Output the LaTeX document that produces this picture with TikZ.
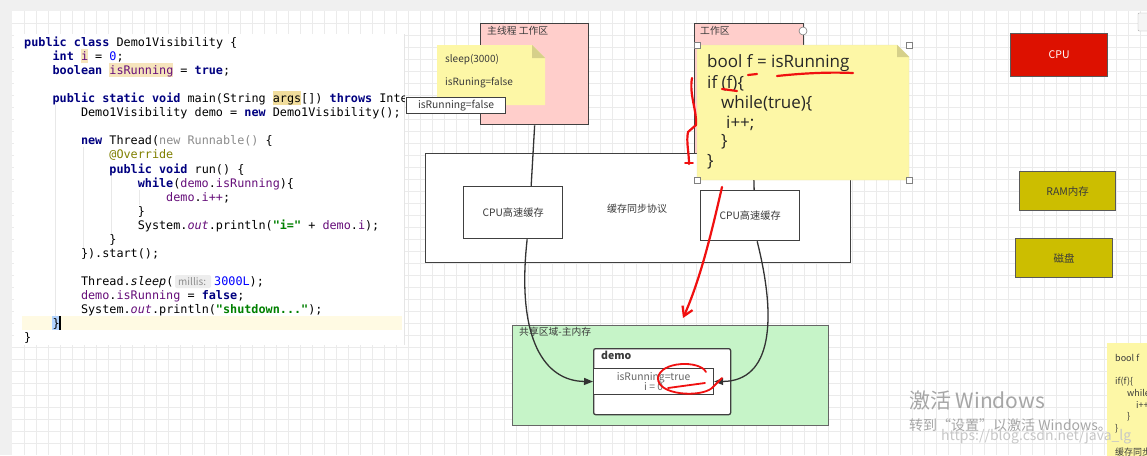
\documentclass[tikz,border=0pt]{standalone}
\usepackage{fontspec}
\setmainfont{Noto Sans CJK SC}
\newfontfamily\codefont{DejaVu Sans Mono}
\newfontfamily\notefont{Open Sans}
\usetikzlibrary{arrows.meta}
\definecolor{kwc}{HTML}{000080}
\definecolor{fldc}{HTML}{660E7A}
\definecolor{strc}{HTML}{008000}
\definecolor{numc}{HTML}{0000FF}
\definecolor{annc}{HTML}{808000}
\definecolor{grc}{HTML}{8C8C8C}
\definecolor{pinkc}{HTML}{FFCECB}
\definecolor{notec}{HTML}{FDF7A6}
\definecolor{foldc}{HTML}{D6D08A}
\definecolor{greenc}{HTML}{C6F4C8}
\definecolor{cpuc}{HTML}{DD1100}
\definecolor{olivec}{HTML}{CCBE00}
\definecolor{gridc}{HTML}{EBEBEB}
\definecolor{bordc}{HTML}{404040}
\definecolor{redc}{HTML}{F01010}
\definecolor{hlc}{HTML}{F6E4BC}
\definecolor{hlargs}{HTML}{F1DD9C}
\definecolor{curlinec}{HTML}{FFFAE3}
\definecolor{selc}{HTML}{B3D4FF}
\definecolor{txtc}{HTML}{3A3A3A}
\newcommand\ckw[1]{\textcolor{kwc}{\bfseries #1}}
\newcommand\cfld[1]{\textcolor{fldc}{#1}}
\newcommand\cfldit[1]{\textcolor{fldc}{\itshape #1}}
\newcommand\cstr[1]{\textcolor{strc}{\bfseries #1}}
\newcommand\cnum[1]{\textcolor{numc}{#1}}
\newcommand\cann[1]{\textcolor{annc}{#1}}
\newcommand\cgr[1]{\textcolor{grc}{#1}}
\tikzset{
  code/.style={anchor=base west, inner sep=0pt, font=\codefont\fontsize{11.8}{14}\selectfont},
  box/.style={draw=bordc, line width=1.3pt, inner sep=0pt, anchor=north west, text=txtc, font=\fontsize{10.2}{12}\selectfont},
  lbl/.style={inner sep=0pt, anchor=north west, text=txtc, font=\fontsize{9.8}{11}\selectfont},
  ntxt/.style={inner sep=0pt, anchor=west, text=txtc, font=\fontsize{10}{12}\selectfont},
  bigtxt/.style={inner sep=0pt, anchor=west, text=black!85, font=\notefont\fontsize{17}{19}\selectfont},
  smalltxt/.style={inner sep=0pt, anchor=west, text=txtc, font=\fontsize{9}{10}\selectfont},
  conn/.style={draw=black!80, line width=1.3pt},
  redpen/.style={draw=redc, line width=2.2pt, line cap=round, line join=round},
  handle/.style={draw=gray, fill=white, line width=0.6pt},
  wmark/.style={inner sep=0pt, anchor=west, text=black!35},
}
\begin{document}
\begin{tikzpicture}[x=1pt,y=-1pt]
\useasboundingbox (0,0) rectangle (1147,455);
\fill[white] (0,0) rectangle (1147,455);
% grid
\foreach \x in {24,36,...,1146} \draw[gridc,line width=0.5pt] (\x,11)--(\x,455);
\foreach \y in {23,35,...,454} \draw[gridc,line width=0.5pt] (12,\y)--(1147,\y);
\fill[gray!12] (0,0) rectangle (1147,11);
\fill[gray!12] (0,0) rectangle (12,455);
% top-right small widget
\draw[gray!60,fill=gray!8,rounded corners=1pt] (1138,13) rectangle (1150,31);

% ---------------- code panel ----------------
\fill[white] (14,34) rectangle (404,345);
\draw[gray!20] (404,34)--(404,345);
\fill[curlinec] (22,316) rectangle (402,330);
\foreach \gx/\ga/\gb in {55/105/318, 83/147/250, 111/176/236, 139/190/205}
  \draw[gray!18,line width=0.6pt] (\gx,\ga)--(\gx,\gb);
\begin{scope}
\clip (14,34) rectangle (404,345);
\fill[hlc] (80.8,49) rectangle (87.9,63);
\fill[hlc] (109.2,63) rectangle (173.1,77);
\fill[hlargs] (272.5,91) rectangle (300.9,105);
\fill[selc] (52.4,316) rectangle (59.5,330);
\draw[black,line width=1.4pt] (60,316)--(60,330);
\node[code] (c1) at (24,46) {\ckw{public class} Demo1Visibility \{};
\node[code] (c2) at (52.4,60) {\ckw{int} \cfld{i} = \cnum{0};};
\node[code] (c3) at (52.4,74) {\ckw{boolean} \cfld{isRunning} = \ckw{true};};
\node[code] (c4) at (52.4,102) {\ckw{public static void} main(String args[]) \ckw{throws} InterruptedException \{};
\node[code] (c5) at (80.8,116) {Demo1Visibility demo = \ckw{new} Demo1Visibility();};
\node[code] (c6) at (80.8,144) {\ckw{new} Thread(\cgr{new Runnable()} \{};
\node[code] (c7) at (109.2,158) {\cann{@Override}};
\node[code] (c8) at (109.2,173) {\ckw{public void} run() \{};
\node[code] (c9) at (137.6,187) {\ckw{while}(\cfld{demo}.\cfld{isRunning})\{};
\node[code] (c10) at (166,201) {\cfld{demo}.\cfld{i}\cfld{++};};
\node[code] (c11) at (137.6,215) {\}};
\node[code] (c12) at (137.6,229) {System.\cfldit{out}.println(\cstr{"i="} + \cfld{demo}.\cfld{i});};
\node[code] (c13) at (109.2,243) {\}};
\node[code] (c14) at (80.8,257) {\}).start();};
\node[code] (c15) at (80.8,285) {Thread.\textit{sleep}(};
\fill[gray!14,rounded corners=2pt] (175,275) rectangle (211,288);
\node[inner sep=0pt,anchor=base west,text=grc,font=\fontsize{10}{12}\selectfont] (hint) at (178,285) {millis:};
\node[code] (c15b) at (214,285) {\cnum{3000L});};
\node[code] (c16) at (80.8,299) {\cfld{demo}.\cfld{isRunning} = \ckw{false};};
\node[code] (c17) at (80.8,313) {System.\cfldit{out}.println(\cstr{"shutdown..."});};
\node[code] (c18) at (52.4,327) {\}};
\node[code] (c19) at (24,341) {\}};
\end{scope}

% ---------------- work areas ----------------
\node[box, fill=pinkc, minimum width=109pt, minimum height=130pt] (wa2) at (694,23) {};
\node[lbl] (wa2l) at (700,26) {工作区};
\draw[handle] (803,31) circle (4);
\node[box, fill=pinkc, minimum width=108pt, minimum height=101pt] (mainwa) at (480,23) {};
\node[lbl] (mainwal) at (487,26) {主线程 工作区};

% ---------------- cache sync box ----------------
\node[box, fill=white, minimum width=425pt, minimum height=109pt] (sync) at (425,153) {};
\node[inner sep=0pt, text=txtc, font=\fontsize{10}{12}\selectfont] (syncl) at (637,209) {缓存同步协议};
\node[box, fill=white, minimum width=99pt, minimum height=52pt] (cacheL) at (463,186) {CPU高速缓存};
\node[box, fill=white, minimum width=99pt, minimum height=50pt] (cacheR) at (700,190) {CPU高速缓存};

% ---------------- shared main memory ----------------
\node[box, draw=black!60, fill=greenc, line width=1.2pt, minimum width=316pt, minimum height=100pt] (shared) at (512,325) {};
\node[lbl] (sharedl) at (519,327) {共享区域-主内存};
\node[box, fill=white, rounded corners=2pt, minimum width=137pt, minimum height=66pt] (demo) at (593,348) {};
\node[inner sep=0pt, anchor=west, text=txtc, font=\bfseries\fontsize{10.5}{12}\selectfont] (demol) at (601,355) {demo};
\node[box, fill=white, line width=1.1pt, minimum width=120pt, minimum height=26pt, text=black!60, align=center, font=\fontsize{10.3}{12}\selectfont] (row) at (593,368) {isRunning=true\\[-1.5pt]i = 0};

% ---------------- connectors ----------------
\draw[conn] (mainwa.south) -- ([xshift=18pt]cacheL.north);
\draw[conn] ([xshift=4pt]wa2.south) -- ([xshift=4pt]cacheR.north);
\draw[conn, -{Triangle[length=9pt,width=7pt]}] ([xshift=14pt]cacheL.south) .. controls (516,340) and (545,381) .. (row.west);
\draw[conn, -{Triangle[length=9pt,width=7pt]}] ([xshift=7pt]cacheR.south) .. controls (777,320) and (772,381) .. (row.east);

% ---------------- small note ----------------
\path[fill=notec] (437,45) -- (532,45) -- (545,58) -- (545,105) -- (437,105) -- cycle;
\fill[foldc] (532,45) -- (532,58) -- (545,58) -- cycle;
\node[ntxt] (s1) at (445,60) {sleep(3000)};
\node[ntxt] (s2) at (445,83) {isRuning=false};
\node[box, fill=white, line width=1.1pt, minimum width=99pt, minimum height=16pt, font=\fontsize{10.3}{12}\selectfont] (flag) at (406,97) {isRunning=false};

% ---------------- big note ----------------
\path[fill=notec, draw=foldc!60, line width=0.4pt] (697,45) -- (897,45) -- (909,57) -- (909,180) -- (697,180) -- cycle;
\fill[foldc] (897,45) -- (897,57) -- (909,57) -- cycle;
\node[bigtxt] (n1) at (707,63) {bool f = isRunning};
\node[bigtxt] (n2) at (707,83) {if (f)\{};
\node[bigtxt] (n3) at (721,103) {while(true)\{};
\node[bigtxt] (n4) at (726,123) {i++;};
\node[bigtxt] (n5) at (721,142) {\}};
\node[bigtxt] (n6) at (707,162) {\}};
\foreach \hx/\hy in {697/45, 909/45, 697/180, 909/180}
  \draw[handle] (\hx-3,\hy-3) rectangle (\hx+3,\hy+3);

% ---------------- red annotations ----------------
\draw[redpen] (748,75) -- (757,74);
\draw[redpen] (777,76) .. controls (805,73) and (830,72) .. (853,73);
\draw[redpen] (722,89) -- (737,91);
\draw[redpen] (692,78) .. controls (689,95) and (697,110) .. (696,125) -- (688,132) .. controls (686,142) and (689,152) .. (689,164);
\draw[redpen, line width=1.8pt] (685,163) -- (693,163);
\draw[redpen, -{Straight Barb[length=9pt,width=11pt]}] (722,187) .. controls (711,235) and (700,280) .. (683,318);
\draw[redpen, line width=1.8pt] (706,372) .. controls (700,360) and (660,361) .. (658,378) .. controls (657,395) and (700,398) .. (712,388) -- (722,378);
\draw[redpen, line width=1.8pt] (668,388) -- (705,383);

% ---------------- hardware boxes ----------------
\node[box, draw=black!65, fill=cpuc, text=white, minimum width=97pt, minimum height=43pt, font=\fontsize{10.5}{12}\selectfont] (cpu) at (1010,33) {CPU};
\node[box, draw=black!65, fill=olivec, minimum width=96pt, minimum height=39pt, font=\fontsize{10.5}{12}\selectfont] (ram) at (1019,171) {RAM内存};
\node[box, draw=black!65, fill=olivec, minimum width=97pt, minimum height=39pt, font=\fontsize{10.5}{12}\selectfont] (disk) at (1015,238) {磁盘};

% ---------------- watermark ----------------
\node[wmark, font=\fontsize{21}{24}\selectfont] (w1) at (909,401) {激活 Windows};
\node[wmark, font=\fontsize{14}{16}\selectfont] (w2) at (909,425) {转到“设置”以激活 Windows。};

% ---------------- partial note at bottom right ----------------
\begin{scope}
\clip (0,0) rectangle (1147,455);
\fill[notec] (1107,343) rectangle (1160,470);
\node[smalltxt] (p1) at (1115,358) {bool f};
\node[smalltxt] (p2) at (1115,382) {if(f)\{};
\node[smalltxt] (p3) at (1127,393) {while};
\node[smalltxt] (p4) at (1136,405) {i++};
\node[smalltxt] (p5) at (1127,417) {\}};
\node[smalltxt] (p6) at (1115,429) {\}};
\node[smalltxt] (p7) at (1115,452) {缓存同步};
\end{scope}
\node[wmark, text=black!22, font=\fontsize{14}{16}\selectfont] (w3) at (941,437) {https://blog.csdn.net/java\_lg};
\end{tikzpicture}
\end{document}
